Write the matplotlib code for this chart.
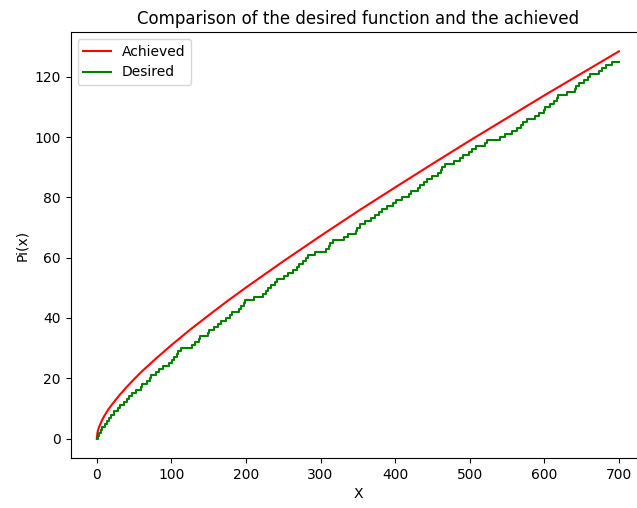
import matplotlib
matplotlib.use('Agg')
import matplotlib.pyplot as plt

# jump positions of the green staircase (primes up to 700)
primes = [2, 3, 5, 7, 11, 13, 17, 19, 23, 29, 31, 37, 41, 43, 47, 53, 59, 61, 67,
          71, 73, 79, 83, 89, 97, 101, 103, 107, 109, 113, 127, 131, 137, 139, 149,
          151, 157, 163, 167, 173, 179, 181, 191, 193, 197, 199, 211, 223, 227, 229,
          233, 239, 241, 251, 257, 263, 269, 271, 277, 281, 283, 293, 307, 311, 313,
          317, 331, 337, 347, 349, 353, 359, 367, 373, 379, 383, 389, 397, 401, 409,
          419, 421, 431, 433, 439, 443, 449, 457, 461, 463, 467, 479, 487, 491, 499,
          503, 509, 521, 523, 541, 547, 557, 563, 569, 571, 577, 587, 593, 599, 601,
          607, 613, 617, 619, 631, 641, 643, 647, 653, 659, 661, 673, 677, 683, 691]

# red curve, values
achieved_x = [0, 1, 2, 3, 5, 7, 10, 15, 20, 30, 40, 50, 60, 80, 100, 125, 150,
              175, 200, 250, 300, 350, 400, 450, 500, 550, 600, 650, 700]
achieved_y = [0, 2.1, 3.1, 3.8, 5.0, 6.1, 7.5, 9.5, 11.2, 14.3, 17.1, 19.7, 22.2,
              26.7, 31.0, 36.1, 40.9, 45.6, 50.1, 58.8, 67.2, 75.4, 83.3, 91.1,
              98.8, 106.3, 113.8, 121.1, 128.4]

desired_x = [0] + primes + [700]
desired_y = list(range(len(primes) + 1)) + [len(primes)]

fig = plt.figure(figsize=(6.37, 5.08), dpi=100)
ax = fig.add_axes([70.7 / 637, 50 / 508, (645 - 70.7) / 637, (476 - 50) / 508])

ax.plot(achieved_x, achieved_y, color='red', label='Achieved')
ax.step(desired_x, desired_y, where='post', color='green', label='Desired')

ax.set_title('Comparison of the desired function and the achieved', fontsize=12)
ax.set_xlabel('X')
ax.set_ylabel('Pi(x)')
ax.legend(loc='upper left')

fig.savefig('out.png', dpi=100)
